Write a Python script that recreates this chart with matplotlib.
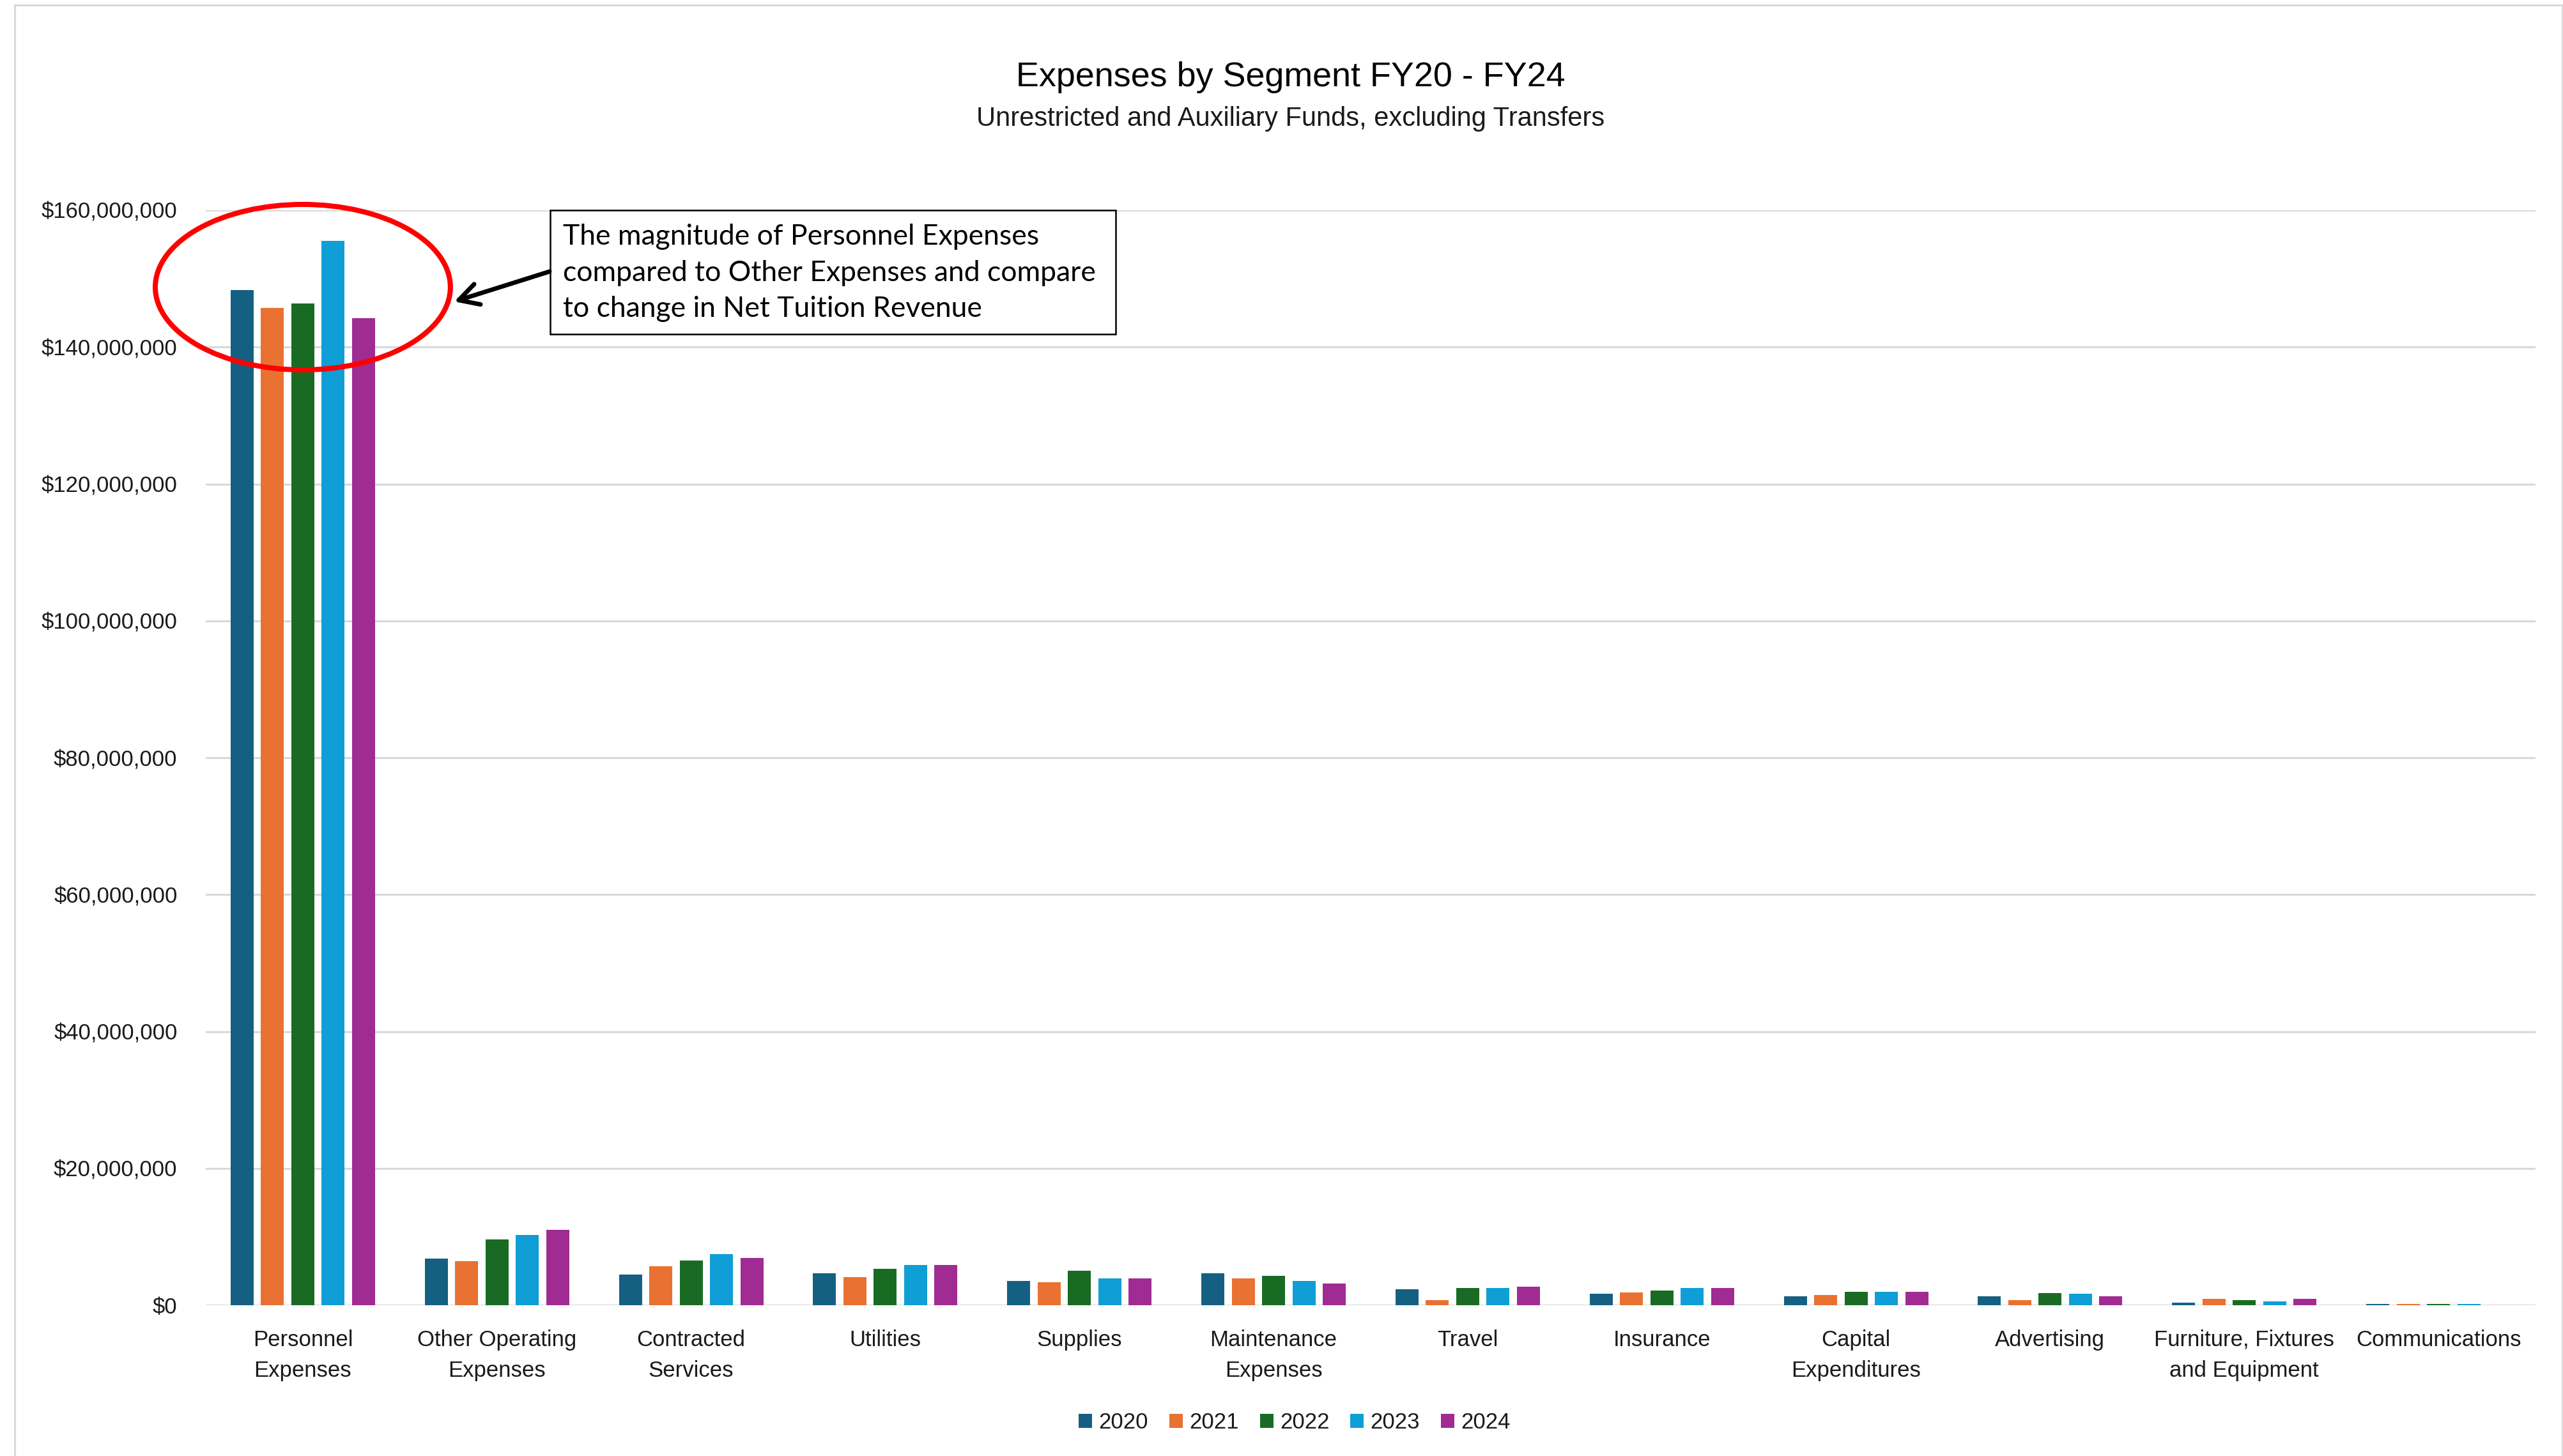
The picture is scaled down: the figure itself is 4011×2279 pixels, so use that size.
import matplotlib
matplotlib.use("Agg")
import matplotlib.pyplot as plt
import numpy as np
from matplotlib.patches import Ellipse, Rectangle, FancyArrowPatch
from matplotlib.ticker import FuncFormatter

# ---------------- data ----------------
categories = ["Personnel\nExpenses", "Other Operating\nExpenses", "Contracted\nServices",
              "Utilities", "Supplies", "Maintenance\nExpenses", "Travel", "Insurance",
              "Capital\nExpenditures", "Advertising", "Furniture, Fixtures\nand Equipment",
              "Communications"]
years = ["2020", "2021", "2022", "2023", "2024"]
v2020 = [148.3e6, 6.81e6, 4.48e6, 4.67e6, 3.61e6, 4.67e6, 2.36e6, 1.68e6, 1.31e6, 1.31e6, 0.40e6, 0.25e6]
v2021 = [145.7e6, 6.44e6, 5.72e6, 4.14e6, 3.42e6, 3.95e6, 0.78e6, 1.87e6, 1.49e6, 0.78e6, 0.96e6, 0.25e6]
v2022 = [146.4e6, 9.61e6, 6.59e6, 5.38e6, 5.04e6, 4.32e6, 2.55e6, 2.18e6, 1.99e6, 1.84e6, 0.78e6, 0.25e6]
v2023 = [155.5e6, 10.33e6, 7.46e6, 5.91e6, 3.92e6, 3.58e6, 2.55e6, 2.55e6, 1.99e6, 1.68e6, 0.59e6, 0.25e6]
v2024 = [144.2e6, 11.04e6, 6.97e6, 5.88e6, 3.92e6, 3.23e6, 2.74e6, 2.55e6, 1.99e6, 1.31e6, 0.96e6, 0.0]
series = [v2020, v2021, v2022, v2023, v2024]
colors = ["#156082", "#E97132", "#196B24", "#0F9ED5", "#A02B93"]

title = "Expenses by Segment FY20 - FY24"
subtitle = "Unrestricted and Auxiliary Funds, excluding Transfers"
note = "The magnitude of Personnel Expenses\ncompared to Other Expenses and compare\nto change in Net Tuition Revenue"

# ---------------- layout ----------------
W, H = 4012, 2279
DPI = 200
plt.rcParams["font.family"] = ["Liberation Sans", "DejaVu Sans"]
TXT = "#1a1a1a"

fig = plt.figure(figsize=(W / DPI, H / DPI), dpi=DPI)
fig.patch.set_facecolor("white")

def fx(x):
    return x / W

def fy(y):
    return 1 - y / H

# chart frame
fig.patches.append(Rectangle((fx(23), fy(2300)), fx(4010) - fx(23), fy(8) - fy(2300),
                             transform=fig.transFigure, fill=False,
                             edgecolor="#d9d9d9", lw=1.1, zorder=0))

ax_l, ax_r, ax_t, ax_b = 322, 3968, 328.9, 2043.3
ax = fig.add_axes([fx(ax_l), fy(ax_b), fx(ax_r) - fx(ax_l), fy(ax_t) - fy(ax_b)])

x = np.arange(len(categories))
pitch = 0.1563
bw = 0.1185
for i, (vals, c, yr) in enumerate(zip(series, colors, years)):
    ax.bar(x + (i - 2) * pitch, vals, width=bw, color=c, label=yr, zorder=3)

ax.set_xlim(-0.5, len(categories) - 0.5)
ax.set_ylim(0, 160e6)
ax.set_yticks(np.arange(0, 160e6 + 1, 20e6))
ax.yaxis.set_major_formatter(FuncFormatter(lambda v, p: "${:,.0f}".format(v)))
ax.set_xticks(x)
ax.set_xticklabels(categories, linespacing=1.58)
ax.tick_params(axis="both", length=0, labelsize=12.5, labelcolor=TXT)
ax.tick_params(axis="y", pad=16)
ax.tick_params(axis="x", pad=13.5)
ax.grid(axis="y", color="#d9d9d9", lw=1.1, zorder=0)
ax.set_axisbelow(True)
for s in ax.spines.values():
    s.set_visible(False)

# titles
fig.text(fx(2020), fy(135), title, ha="center", va="baseline", fontsize=19.4, color="black")
fig.text(fx(2020), fy(197), subtitle, ha="center", va="baseline", fontsize=15, color=TXT)

# legend
handles, labels = ax.get_legend_handles_labels()
fig.legend(handles, labels, loc="center", bbox_to_anchor=(fx(2026), fy(2227)), ncol=5,
           frameon=False, fontsize=12.5, handlelength=0.6, handleheight=0.6,
           handletextpad=0.3, columnspacing=0.95, labelcolor=TXT, borderaxespad=0,
           borderpad=0)

# red ellipse around personnel
ell = Ellipse((0, 148.75e6), width=1.52, height=24.17e6, fill=False,
              edgecolor="#ff0000", lw=2.9, clip_on=False, zorder=5)
ax.add_patch(ell)

# annotation box
bx0, bx1, by0, by1 = 861, 1746, 329, 523
fig.patches.append(Rectangle((fx(bx0), fy(by1)), fx(bx1) - fx(bx0), fy(by0) - fy(by1),
                             transform=fig.transFigure, facecolor="white",
                             edgecolor="black", lw=0.9, zorder=6))
fig.text(fx(881), fy(427), note, ha="left", va="center", fontsize=16,
         family=["Lato", "DejaVu Sans"], linespacing=1.47, color="black", zorder=7)

# arrow (open head)
fig.add_artist(FancyArrowPatch(
    (fx(860), fy(425)), (fx(711), fy(472)), transform=fig.transFigure,
    arrowstyle="->,head_length=1.1,head_width=0.6", mutation_scale=10,
    color="black", lw=2.5, shrinkA=0, shrinkB=0, capstyle="round",
    joinstyle="round", zorder=7))

fig.savefig("out.png", dpi=DPI, facecolor="white")
